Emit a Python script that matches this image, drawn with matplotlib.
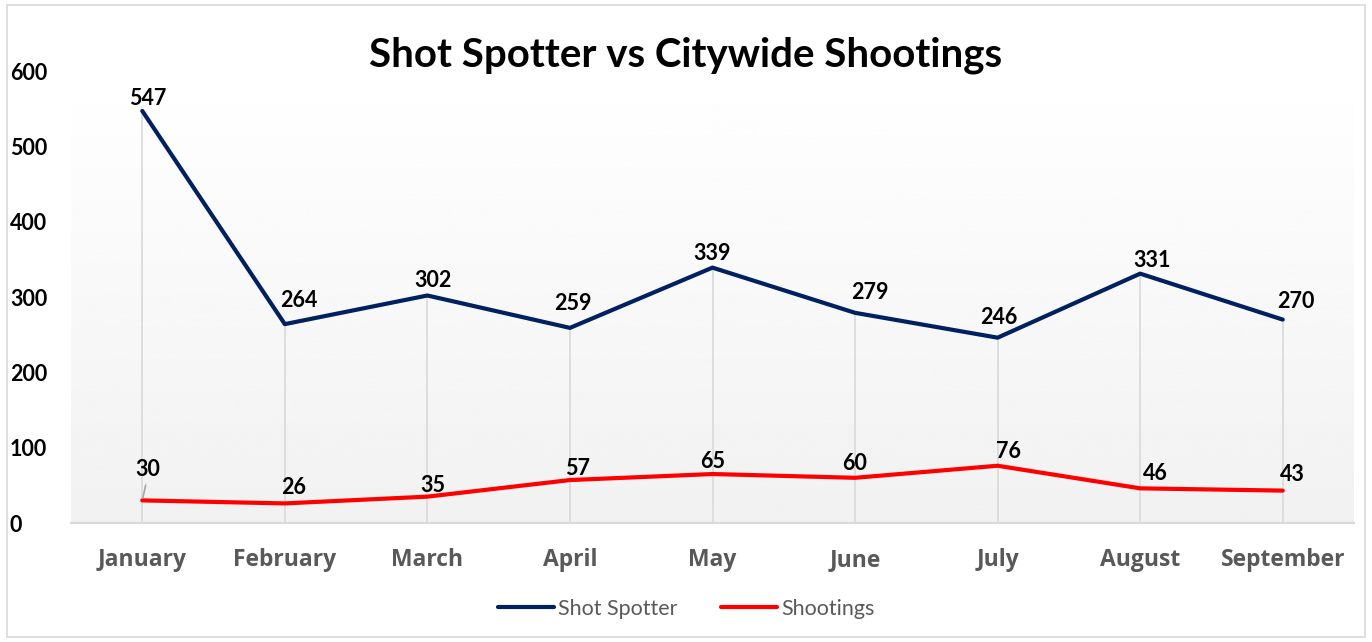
import numpy as np
import matplotlib.pyplot as plt
from matplotlib.patches import Rectangle

months = ["January", "February", "March", "April", "May", "June", "July", "August", "September"]
shot_spotter = [547, 264, 302, 259, 339, 279, 246, 331, 270]
shootings = [30, 26, 35, 57, 65, 60, 76, 46, 43]
y_ticks = [0, 100, 200, 300, 400, 500, 600]

# label offsets in pixels (dx, dy) relative to each point
spotter_off = [(5, 12), (14, 24), (6, 15), (3, 24), (0, 14), (15, 20), (1, 20), (12, 13), (13, 18)]
shoot_off = [(5, 31), (9, 16), (5, 11), (8, 12), (0, 13), (0, 14), (11, 14), (15, 15), (10, 16)]

plt.rcParams["font.family"] = ["Lato", "DejaVu Sans"]

fig = plt.figure(figsize=(13.72, 6.42), dpi=100)
fig.patches.append(Rectangle((0.005, 0.008), 0.99, 0.984, transform=fig.transFigure,
                             fill=False, edgecolor="#d9d9d9", linewidth=1.2))
ax = fig.add_axes([71 / 1372, 1 - 523 / 642, (1354 - 71) / 1372, (523 - 71) / 642])

x = np.arange(len(months))
ax.set_xlim(-0.5, len(months) - 0.5)
ax.set_ylim(0, 600)

# gradient background
grad = np.linspace(1.0, 0.945, 256).reshape(-1, 1)
ax.imshow(grad, cmap="gray", vmin=0, vmax=1, aspect="auto",
          extent=(-0.5, len(months) - 0.5, 0, 600), origin="upper", zorder=0)

# drop lines
ax.vlines(x, 0, np.maximum(shot_spotter, shootings), color="#d9d9d9", linewidth=1.2, zorder=1)

ax.plot(x, shot_spotter, color="#002060", linewidth=3, label="Shot Spotter", zorder=3,
        solid_capstyle="round", solid_joinstyle="round")
ax.plot(x, shootings, color="#ff0000", linewidth=3, label="Shootings", zorder=3,
        solid_capstyle="round", solid_joinstyle="round")

for i, v in enumerate(shot_spotter):
    ax.annotate(str(v), (x[i], v), xytext=spotter_off[i], textcoords="offset pixels",
                ha="center", va="center", fontsize=15.5, fontweight="bold", color="black", zorder=4)
for i, v in enumerate(shootings):
    ax.annotate(str(v), (x[i], v), xytext=shoot_off[i], textcoords="offset pixels",
                ha="center", va="center", fontsize=15.5, fontweight="bold", color="black", zorder=4)
# leader line for the moved January label
ax.annotate("", (x[0], shootings[0]), xytext=(4, 18), textcoords="offset pixels",
            arrowprops=dict(arrowstyle="-", color="#a6a6a6", linewidth=1.2), zorder=4)

for s in ["top", "right", "left"]:
    ax.spines[s].set_visible(False)
ax.spines["bottom"].set_color("#d9d9d9")
ax.spines["bottom"].set_linewidth(1.5)

ax.set_xticks(x)
ax.set_xticklabels(months, fontsize=16.5, fontweight="bold", color="#595959",
                   family=["Open Sans", "DejaVu Sans"])
ax.tick_params(axis="x", length=0, pad=18)
ax.set_yticks(y_ticks)
ax.set_yticklabels([str(t) for t in y_ticks], fontsize=15.5, fontweight="bold", color="black", ha="left")
ax.tick_params(axis="y", length=0, pad=44)

fig.text(0.5, 1 - 55 / 642, "Shot Spotter vs Citywide Shootings", ha="center", va="center",
         fontsize=29, fontweight="bold", color="black")

leg = fig.legend(loc="center", bbox_to_anchor=(0.5, 1 - 609 / 642), ncol=2, frameon=False,
                 prop={"size": 15.5}, handlelength=2.6, columnspacing=2.0, handletextpad=0.2)
for t in leg.get_texts():
    t.set_color("#595959")

fig.savefig("out.png", dpi=100)
